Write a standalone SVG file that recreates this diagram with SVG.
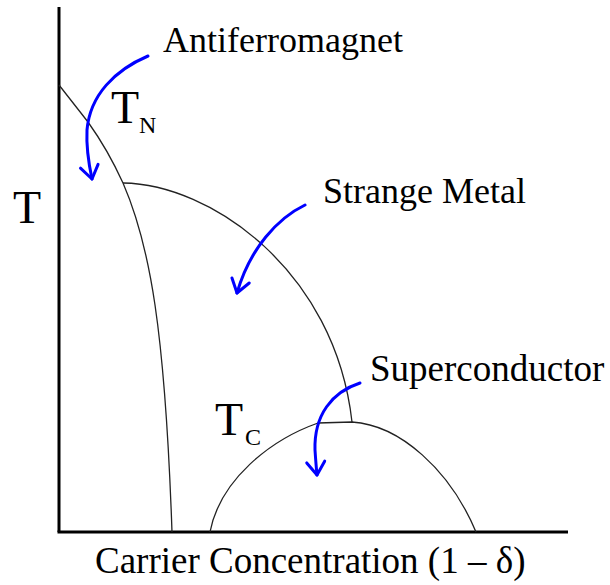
<svg xmlns="http://www.w3.org/2000/svg" width="610" height="585" viewBox="0 0 610 585">
  <style>
    .lbl { font-family: 'Liberation Serif', 'DejaVu Serif', 'Noto Serif', serif; font-size: 36px; fill: #000; }
    .lbl2 { font-family: 'Liberation Serif', 'DejaVu Serif', 'Noto Serif', serif; font-size: 37px; fill: #000; }
    .big { font-family: 'Liberation Serif', 'DejaVu Serif', 'Noto Serif', serif; font-size: 46px; fill: #000; }
    .sub { font-family: 'Liberation Serif', 'DejaVu Serif', 'Noto Serif', serif; font-size: 24px; fill: #000; }
    .axis { stroke: #000; stroke-width: 3; fill: none; }
    .curve { stroke: #222; stroke-width: 1.3; fill: none; }
    .arrow { stroke: #0000ff; stroke-width: 3; fill: none; stroke-linecap: round; stroke-linejoin: round; marker-end: url(#head); }
  </style>
  <defs>
    <marker id="head" markerUnits="userSpaceOnUse" viewBox="-18 -12 22 24" markerWidth="22" markerHeight="24" refX="0" refY="0" orient="auto" overflow="visible">
      <path d="M-13,-9 L0,0 L-13,9" fill="none" stroke="#0000ff" stroke-width="3" stroke-linecap="round" stroke-linejoin="round"/>
    </marker>
  </defs>
  <rect width="610" height="585" fill="#fff"/>

  <g id="axes">
    <line class="axis" x1="59" y1="7" x2="59" y2="532"/>
    <line class="axis" x1="57.5" y1="532" x2="568" y2="532"/>
    <text class="big" x="13" y="223">T</text>
    <text class="lbl2" x="95" y="573">Carrier Concentration (1 – δ)</text>
  </g>

  <g id="phase-boundaries">
    <path id="tn-curve" class="curve" d="M59,85 L88,122 Q108,150 123,183 C150,245 165,330 172,532"/>
    <path id="pseudogap-curve" class="curve" d="M123,183 C210,184 335,270 352,422"/>
    <path id="tc-dome" class="curve" d="M210,532 C220,480 270,440 318,423 L352,422 C400,425 450,470 476,532"/>
  </g>

  <g id="antiferromagnet">
    <text class="lbl" x="163" y="52">Antiferromagnet</text>
    <text class="big" x="111" y="123">T</text>
    <text class="sub" x="139" y="133">N</text>
  </g>

  <g id="strange-metal">
    <text class="lbl" x="323" y="203">Strange Metal</text>
  </g>

  <g id="superconductor">
    <text class="lbl2" x="370" y="381">Superconductor</text>
    <text class="big" x="215" y="435">T</text>
    <text class="sub" x="245" y="445">C</text>
  </g>

  <g id="connectors">
    <path class="arrow" d="M148,56 C115,70 90,95 87,130 C86,150 89,165 92,179"/>
    <path class="arrow" d="M305,205 C278,218 250,248 237,293"/>
    <path class="arrow" d="M360,383 C332,392 314,415 315,450 Q316,465 317,475"/>
  </g>
</svg>
